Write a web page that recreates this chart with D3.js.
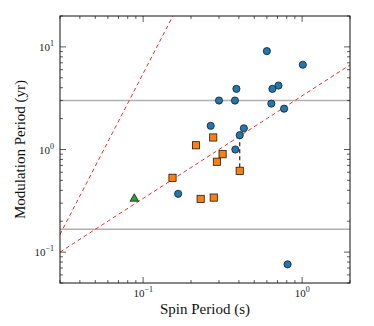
<!DOCTYPE html>
<html>
<head>
<meta charset="utf-8">
<script src="https://cdn.jsdelivr.net/npm/d3@7"></script>
<style>
  body { margin: 0; background: #fff; }
  svg { display: block; font-family: "Liberation Serif", "DejaVu Serif", serif; }
</style>
</head>
<body>
<div id="chart"></div>
<script>
// blue sources (circles)
var blueSpin = [0.60, 1.01, 0.71, 0.65, 0.64, 0.77, 0.386, 0.30, 0.378, 0.266, 0.43, 0.405, 0.38, 0.166, 0.81];
var blueMod  = [9.1, 6.7, 4.2, 3.9, 2.8, 2.5, 3.9, 3.0, 3.0, 1.7, 1.61, 1.38, 1.0, 0.37, 0.076];
// orange sources (squares)
var orangeSpin = [0.276, 0.215, 0.316, 0.291, 0.153, 0.230, 0.278, 0.405];
var orangeMod  = [1.31, 1.10, 0.90, 0.76, 0.53, 0.33, 0.34, 0.62];
// green source (triangle)
var greenSpin = [0.088];
var greenMod  = [0.335];
// dashed link between two measurements of one source
var linkSpin = [0.405, 0.405];
var linkMod  = [1.38, 0.62];
// reference lines (red dashed)
var steepSpin = [0.03, 0.2];
var steepMod  = [0.1485, 44];
var shallowSpin = [0.03, 2];
var shallowMod  = [0.1, 6.67];
// horizontal gray lines
var hLines = [3, 1 / 6];

var xTicks = [0.1, 1];
var yTicks = [0.1, 1, 10];
var xDomain = [0.03, 2];
var yDomain = [0.05, 20];

var width = 374, height = 326,
	margin = { top: 16, right: 24, bottom: 43, left: 60 },
	w = width - margin.left - margin.right,
	h = height - margin.top - margin.bottom;

var svg = d3.select('#chart').append('svg')
	.attr('width', width)
	.attr('height', height);

var g = svg.append('g')
	.attr('transform', 'translate(' + margin.left + ',' + margin.top + ')');

var x = d3.scaleLog().domain(xDomain).range([0, w]);
var y = d3.scaleLog().domain(yDomain).range([h, 0]);

svg.append('defs').append('clipPath')
	.attr('id', 'clip')
	.append('rect')
	.attr('width', w)
	.attr('height', h);

var plot = g.append('g').attr('clip-path', 'url(#clip)');

// gray horizontal lines
plot.selectAll('.hline')
	.data(hLines)
	.enter().append('line')
	.attr('x1', 0)
	.attr('x2', w)
	.attr('y1', function (d) { return y(d); })
	.attr('y2', function (d) { return y(d); })
	.attr('stroke', '#b0b0b0')
	.attr('stroke-width', 1.5);

// red dashed lines
function pairs(xs, ys) {
	return xs.map(function (v, i) { return [v, ys[i]]; });
}
var line = d3.line()
	.x(function (d) { return x(d[0]); })
	.y(function (d) { return y(d[1]); });

[pairs(steepSpin, steepMod), pairs(shallowSpin, shallowMod)].forEach(function (pts) {
	plot.append('path')
		.attr('d', line(pts))
		.attr('fill', 'none')
		.attr('stroke', '#f03030')
		.attr('stroke-width', 1)
		.attr('stroke-dasharray', '4,3');
});

// link dashed black line
plot.append('path')
	.attr('d', line(pairs(linkSpin, linkMod)))
	.attr('fill', 'none')
	.attr('stroke', '#222')
	.attr('stroke-width', 1.2)
	.attr('stroke-dasharray', '4,3');

// markers
plot.selectAll('.blue')
	.data(pairs(blueSpin, blueMod))
	.enter().append('circle')
	.attr('cx', function (d) { return x(d[0]); })
	.attr('cy', function (d) { return y(d[1]); })
	.attr('r', 3.6)
	.attr('fill', '#1f77b4')
	.attr('stroke', '#1a1a1a')
	.attr('stroke-width', 0.8);

var sq = 7.2;
plot.selectAll('.orange')
	.data(pairs(orangeSpin, orangeMod))
	.enter().append('rect')
	.attr('x', function (d) { return x(d[0]) - sq / 2; })
	.attr('y', function (d) { return y(d[1]) - sq / 2; })
	.attr('width', sq)
	.attr('height', sq)
	.attr('fill', '#ff7f0e')
	.attr('stroke', '#1a1a1a')
	.attr('stroke-width', 0.8);

var tri = d3.symbol().type(d3.symbolTriangle).size(32);
plot.selectAll('.green')
	.data(pairs(greenSpin, greenMod))
	.enter().append('path')
	.attr('d', tri)
	.attr('transform', function (d) { return 'translate(' + x(d[0]) + ',' + (y(d[1]) + 0.5) + ')'; })
	.attr('fill', '#2ca02c')
	.attr('stroke', '#1a1a1a')
	.attr('stroke-width', 0.8);

// ticks (inward, all four sides)
function minorTicks(domain) {
	var out = [];
	for (var e = -3; e <= 2; e++) {
		for (var m = 1; m < 10; m++) {
			var v = m * Math.pow(10, e);
			if (v >= domain[0] * 0.999 && v <= domain[1] * 1.001 && m !== 1) out.push(v);
		}
	}
	return out;
}
var xMinor = minorTicks(xDomain), yMinor = minorTicks(yDomain);
var tickCol = '#333';

function vTicks(vals, len, y0, dir) {
	g.selectAll(null).data(vals).enter().append('line')
		.attr('x1', function (d) { return x(d); })
		.attr('x2', function (d) { return x(d); })
		.attr('y1', y0)
		.attr('y2', y0 + dir * len)
		.attr('stroke', tickCol)
		.attr('stroke-width', 0.8);
}
function hTicks(vals, len, x0, dir) {
	g.selectAll(null).data(vals).enter().append('line')
		.attr('y1', function (d) { return y(d); })
		.attr('y2', function (d) { return y(d); })
		.attr('x1', x0)
		.attr('x2', x0 + dir * len)
		.attr('stroke', tickCol)
		.attr('stroke-width', 0.8);
}
vTicks(xTicks, 6, h, -1); vTicks(xMinor, 3, h, -1);
vTicks(xTicks, 6, 0, 1); vTicks(xMinor, 3, 0, 1);
hTicks(yTicks, 6, 0, 1); hTicks(yMinor, 3, 0, 1);
hTicks(yTicks, 6, w, -1); hTicks(yMinor, 3, w, -1);

// frame
g.append('rect')
	.attr('width', w)
	.attr('height', h)
	.attr('fill', 'none')
	.attr('stroke', '#111')
	.attr('stroke-width', 1);

// tick labels
function expLabel(sel, v) {
	var e = Math.round(Math.log10(v));
	sel.append('tspan').text('10');
	sel.append('tspan')
		.attr('dy', -5)
		.attr('font-size', 8)
		.text(e < 0 ? '\u2212' + (-e) : String(e));
}
xTicks.forEach(function (v) {
	var t = g.append('text')
		.attr('x', x(v))
		.attr('y', h + 14)
		.attr('text-anchor', 'middle')
		.attr('font-size', 11)
		.attr('fill', '#222');
	expLabel(t, v);
});
yTicks.forEach(function (v) {
	var t = g.append('text')
		.attr('x', -6)
		.attr('y', y(v) + 4)
		.attr('text-anchor', 'end')
		.attr('font-size', 11)
		.attr('fill', '#222');
	expLabel(t, v);
});

// axis titles
g.append('text')
	.attr('x', w / 2)
	.attr('y', h + 31)
	.attr('text-anchor', 'middle')
	.attr('font-size', 15)
	.attr('fill', '#111')
	.text('Spin Period (s)');

g.append('text')
	.attr('transform', 'translate(' + (-35) + ',' + (h / 2) + ') rotate(-90)')
	.attr('text-anchor', 'middle')
	.attr('font-size', 15)
	.attr('fill', '#111')
	.text('Modulation Period (yr)');
</script>
</body>
</html>
